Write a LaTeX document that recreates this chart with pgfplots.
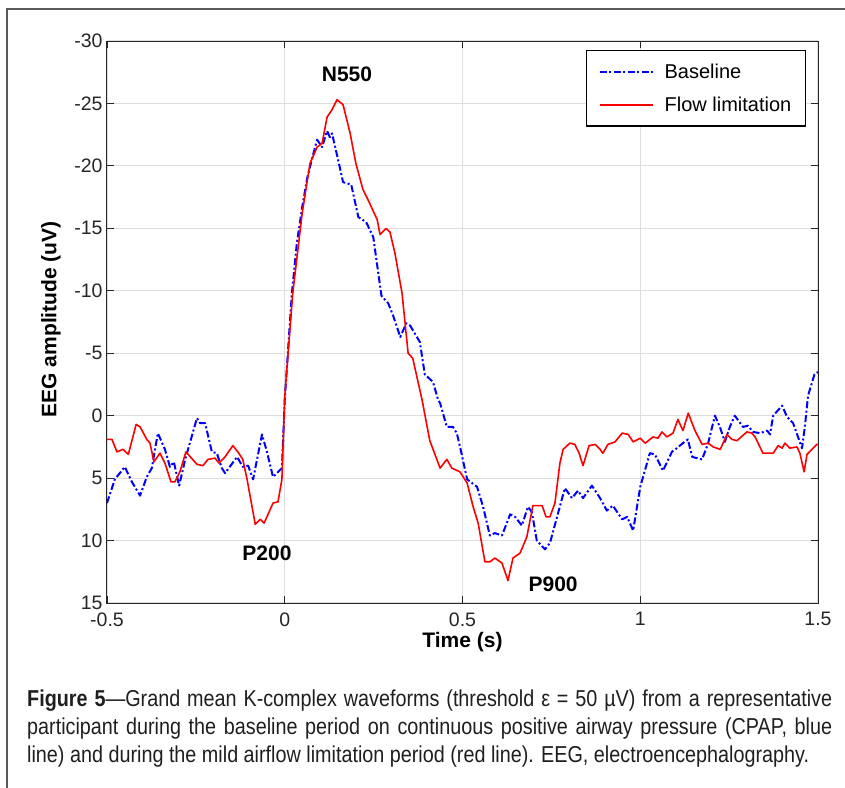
\documentclass[border=0pt]{standalone}
\usepackage{fontspec}
\setmainfont{Liberation Sans}
\newfontfamily\capfont{Liberation Sans}[FakeStretch=0.86]
\usepackage{pgfplots}
\pgfplotsset{compat=1.18}
\definecolor{gridgray}{RGB}{222,222,222}
\definecolor{framegray}{RGB}{90,90,90}
\definecolor{mblue}{RGB}{0,0,255}
\definecolor{mred}{RGB}{255,0,0}

\begin{document}
\begin{tikzpicture}
\useasboundingbox (-107bp,-185bp) rectangle (738bp,603bp);
\draw[line width=1.5bp, framegray] (-100bp,-190bp) -- (-100bp,594bp) -- (745bp,594bp);
\begin{axis}[
  scale only axis, width=711bp, height=562bp,
  xmin=-0.5, xmax=1.5, ymin=-30, ymax=15, y dir=reverse,
  xtick={-0.5,0,0.5,1,1.5}, xticklabels={-0.5,0,0.5,1,1.5},
  ytick={-30,-25,-20,-15,-10,-5,0,5,10,15},
  yticklabels={-30,-25,-20,-15,-10,-5,0,5,10,15},
  tick align=inside, major tick length=7bp,
  every tick/.style={black!85, line width=0.8bp},
  axis line style={black!85, line width=1bp},
  grid=major, major grid style={gridgray, line width=1.2bp},
  tick label style={font=\fontsize{19.5bp}{23bp}\selectfont, text=black!85},
  xticklabel style={yshift=-6bp},
  yticklabel style={xshift=-1bp},
  every axis x label/.style={at={(axis description cs:0.5,-0.0700)}, anchor=center},
  every axis y label/.style={at={(axis description cs:-0.0788,0.505)}, rotate=90, anchor=center},
  label style={font=\bfseries\fontsize{21bp}{25bp}\selectfont},
  xlabel={Time (s)}, ylabel={EEG amplitude (uV)},
  legend style={at={(0.983,0.984)}, anchor=north east, draw=black, line width=1.2bp,
    font=\fontsize{20bp}{24bp}\selectfont, inner xsep=12bp, inner ysep=11bp,
    row sep=13.4bp, cells={anchor=west}},
  legend image code/.code={\draw[#1] (0bp,0bp) -- (53bp,0bp);},
]
\addplot[mblue, line width=2bp, dash pattern=on 7bp off 2.5bp on 2bp off 2.5bp, line join=round] coordinates {
(-0.5,7.0) (-0.478,5.1) (-0.45,4.1) (-0.43,5.3) (-0.407,6.4) (-0.388,4.9) (-0.374,4.2)
(-0.357,1.4) (-0.337,2.7) (-0.323,4.1) (-0.312,3.7) (-0.297,5.6) (-0.28,3.5) (-0.247,0.2)
(-0.238,0.6) (-0.224,0.6) (-0.205,2.9) (-0.191,3.0) (-0.177,4.2) (-0.168,4.6) (-0.134,3.3)
(-0.118,4.1) (-0.103,4.0) (-0.089,5.1) (-0.064,1.5) (-0.050,2.9) (-0.033,4.9) (-0.008,4.2)
(0.0,-1.3) (0.02,-9.8) (0.034,-13.8) (0.049,-16.7) (0.063,-19.0) (0.077,-20.6) (0.091,-22.1)
(0.105,-21.5) (0.119,-22.8) (0.127,-22.3) (0.133,-22.6) (0.150,-20.5) (0.164,-18.7)
(0.187,-18.5) (0.207,-15.9) (0.229,-15.5) (0.249,-14.3) (0.272,-9.6) (0.291,-9.0)
(0.305,-8.0) (0.325,-6.3) (0.342,-7.4) (0.353,-7.2) (0.38,-5.9) (0.394,-3.3) (0.417,-2.7)
(0.431,-1.3) (0.437,-1.0) (0.456,0.9) (0.473,0.9) (0.484,1.4) (0.497,3.0) (0.513,5.1)
(0.541,5.7) (0.558,7.3) (0.577,9.6) (0.591,9.4) (0.611,9.6) (0.634,7.9) (0.648,8.1)
(0.667,8.8) (0.684,7.3) (0.695,7.7) (0.709,10.0) (0.732,10.7) (0.746,10.2) (0.766,8.1)
(0.788,5.8) (0.808,6.6) (0.825,6.0) (0.839,6.6) (0.864,5.6) (0.887,6.6) (0.906,7.6)
(0.923,7.2) (0.949,8.3) (0.963,8.1) (0.980,9.2) (1.0,5.7) (1.008,4.9) (1.027,3.0)
(1.041,3.1) (1.064,4.4) (1.089,2.9) (1.103,2.6) (1.120,2.2) (1.134,1.9) (1.146,3.3)
(1.174,3.5) (1.191,2.2) (1.21,0.0) (1.224,0.9) (1.238,2.1) (1.252,0.9) (1.266,0.0)
(1.289,0.9) (1.303,0.8) (1.317,1.3) (1.337,1.4) (1.357,1.2) (1.365,1.5) (1.374,0.0)
(1.399,-0.8) (1.413,0.1) (1.43,0.6) (1.455,2.6) (1.463,0.9) (1.472,-1.6) (1.49,-3.3) (1.5,-3.5)
};
\addlegendentry{\hspace{9bp}Baseline}
\addplot[mred, line width=1.6bp, line join=round] coordinates {
(-0.5,1.9) (-0.486,1.9) (-0.472,2.9) (-0.455,2.7) (-0.44,3.1) (-0.418,0.7) (-0.407,0.9)
(-0.388,1.9) (-0.379,2.2) (-0.368,3.7) (-0.351,3.0) (-0.337,3.8) (-0.32,5.3) (-0.309,5.3)
(-0.295,4.5) (-0.278,2.9) (-0.247,3.9) (-0.230,4.0) (-0.216,3.5) (-0.196,3.4) (-0.185,3.8)
(-0.168,3.3) (-0.146,2.4) (-0.132,2.9) (-0.118,3.5) (-0.106,5.1) (-0.083,8.7) (-0.069,8.3)
(-0.058,8.6) (-0.033,7.0) (-0.019,6.9) (-0.008,5.1) (0.0,-1.5) (0.0225,-9.8) (0.049,-16.2)
(0.071,-20.2) (0.091,-21.5) (0.105,-21.8) (0.119,-23.9) (0.133,-24.5) (0.147,-25.3)
(0.164,-24.9) (0.184,-22.6) (0.2,-20.2) (0.22,-18.1) (0.234,-17.3) (0.26,-15.7) (0.268,-14.5)
(0.285,-15.0) (0.296,-14.7) (0.31,-13.0) (0.33,-9.8) (0.347,-5.0) (0.36,-4.6) (0.386,-1.3)
(0.408,2.0) (0.437,4.2) (0.456,3.5) (0.47,4.2) (0.493,4.5) (0.513,5.4) (0.53,7.3) (0.544,8.6)
(0.563,11.7) (0.577,11.7) (0.591,11.4) (0.611,11.8) (0.628,13.2) (0.642,11.4) (0.662,11.0)
(0.681,9.7) (0.698,7.2) (0.724,7.2) (0.735,8.1) (0.746,8.1) (0.76,7.0) (0.774,3.8) (0.783,2.7)
(0.802,2.2) (0.816,2.3) (0.828,3.0) (0.839,4.0) (0.856,2.4) (0.873,2.3) (0.887,2.7) (0.895,3.0)
(0.909,2.3) (0.929,2.1) (0.949,1.4) (0.966,1.5) (0.98,2.1) (1.0,1.8) (1.014,2.2) (1.036,1.7)
(1.05,1.8) (1.061,1.3) (1.075,1.7) (1.092,1.4) (1.106,0.3) (1.12,1.2) (1.135,-0.2) (1.154,1.2)
(1.174,2.3) (1.191,2.2) (1.205,2.5) (1.225,2.7) (1.244,1.5) (1.258,1.9) (1.272,2.0) (1.300,1.3)
(1.314,1.4) (1.323,1.7) (1.345,3.0) (1.357,3.0) (1.374,3.0) (1.388,2.4) (1.399,2.6) (1.407,2.2)
(1.421,2.6) (1.441,2.5) (1.449,3.0) (1.461,4.5) (1.469,3.1) (1.497,2.3) (1.5,2.3)
};
\addlegendentry{\hspace{9bp}Flow limitation}
\node[font=\bfseries\fontsize{21bp}{25bp}\selectfont] at (axis cs:0.175,-27.3) {N550};
\node[font=\bfseries\fontsize{21bp}{25bp}\selectfont] at (axis cs:-0.05,11.0) {P200};
\node[font=\bfseries\fontsize{21bp}{25bp}\selectfont] at (axis cs:0.755,13.5) {P900};
\end{axis}
\begin{scope}[every node/.style={anchor=base west, inner sep=0pt, text=black!88,
    font=\capfont\fontsize{23bp}{28bp}\selectfont}]
\node at (-80bp,-103.5bp) {\makebox[805bp][s]{\textbf{Figure 5}—Grand mean K-complex waveforms (threshold ε = 50 µV) from a representative}};
\node at (-80bp,-131.5bp) {\makebox[805bp][s]{participant during the baseline period on continuous positive airway pressure (CPAP, blue}};
\node at (-80bp,-159.5bp) {line) and during the mild airflow limitation period (red line). EEG, electroencephalography.};
\end{scope}
\end{tikzpicture}
\end{document}
